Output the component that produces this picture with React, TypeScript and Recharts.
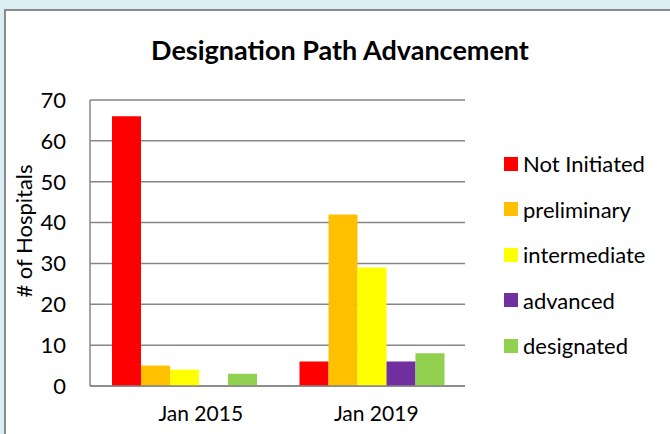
import { Bar, BarChart, CartesianGrid, XAxis, YAxis } from "recharts";

const periods = ["Jan 2015", "Jan 2019"];
const notInitiated = [66, 6];
const preliminary = [5, 42];
const intermediate = [4, 29];
const advanced = [0, 6];
const designated = [3, 8];
const yTicks = [0, 10, 20, 30, 40, 50, 60, 70];

const seriesList = [
  { key: "notInitiated", name: "Not Initiated", color: "#ff0000", values: notInitiated },
  { key: "preliminary", name: "preliminary", color: "#ffc000", values: preliminary },
  { key: "intermediate", name: "intermediate", color: "#ffff00", values: intermediate },
  { key: "advanced", name: "advanced", color: "#7030a0", values: advanced },
  { key: "designated", name: "designated", color: "#92d050", values: designated },
];

const rows = periods.map((period, i) => {
  const row: Record<string, string | number> = { period };
  seriesList.forEach((s) => {
    row[s.key] = s.values[i];
  });
  return row;
});

const FONT = "Lato, 'Open Sans', sans-serif";
const GRID = "#868686";
// the source nudges its category labels a little right of the bar groups
const labelNudge = [17, 5];

const PeriodTick = (props: any) => {
  const { x, y, payload, index } = props;
  return (
    <text
      x={x + (labelNudge[index] ?? 0)}
      y={y}
      dy="0.71em"
      textAnchor="middle"
      fontSize={21}
      fontFamily={FONT}
      fill="#000"
    >
      {payload.value}
    </text>
  );
};

// legend kept outside the chart so it doesn't eat plot width
const LegendList = () => (
  <div
    style={{
      position: "absolute",
      left: 504,
      top: 141,
      fontFamily: FONT,
      fontSize: 22,
      color: "#000",
    }}
  >
    {seriesList.map((s) => (
      <div key={s.key} style={{ display: "flex", alignItems: "center", height: 45.5 }}>
        <span
          style={{
            width: 14,
            height: 14,
            background: s.color,
            marginRight: 5,
            display: "inline-block",
          }}
        />
        <span>{s.name}</span>
      </div>
    ))}
  </div>
);

export default function App() {
  return (
    <div
      style={{
        position: "fixed",
        left: 0,
        top: 0,
        width: 670,
        height: 434,
        overflow: "hidden",
        background: "#dbeef4",
      }}
    >
      <div
        style={{
          position: "absolute",
          left: 4,
          top: 9,
          width: 690,
          height: 450,
          background: "#fff",
          border: "2px solid #8a8a8a",
        }}
      />
      <div
        style={{
          position: "absolute",
          left: 0,
          top: 33,
          width: 680,
          textAlign: "center",
          fontFamily: FONT,
          fontWeight: 700,
          fontSize: 27,
        }}
      >
        Designation Path Advancement
      </div>
      <div style={{ position: "absolute", left: 0, top: 0 }}>
        <BarChart
          width={670}
          height={434}
          data={rows}
          margin={{ top: 100, right: 205, left: 0, bottom: 0 }}
          barGap={0}
          barCategoryGap={22}
        >
          <CartesianGrid vertical={false} stroke={GRID} strokeWidth={1.5} />
          <XAxis
            dataKey="period"
            height={48}
            tickLine={false}
            axisLine={{ stroke: GRID, strokeWidth: 1.5 }}
            tick={<PeriodTick />}
            tickMargin={14}
          />
          <YAxis
            width={90}
            domain={[0, 70]}
            ticks={yTicks}
            tickLine={false}
            tickSize={0}
            tickMargin={24}
            axisLine={{ stroke: GRID, strokeWidth: 1.5 }}
            tick={{ fill: "#000", fontSize: 22, fontFamily: FONT }}
            label={{
              content: () => (
                <text
                  transform="translate(23,231) rotate(-90)"
                  textAnchor="middle"
                  dominantBaseline="central"
                  fontSize={22}
                  fontFamily={FONT}
                  fill="#000"
                >
                  # of Hospitals
                </text>
              ),
            }}
          />
          {seriesList.map((s) => (
            <Bar
              key={s.key}
              dataKey={s.key}
              name={s.name}
              fill={s.color}
              isAnimationActive={false}
            />
          ))}
        </BarChart>
      </div>
      <LegendList />
    </div>
  );
}
